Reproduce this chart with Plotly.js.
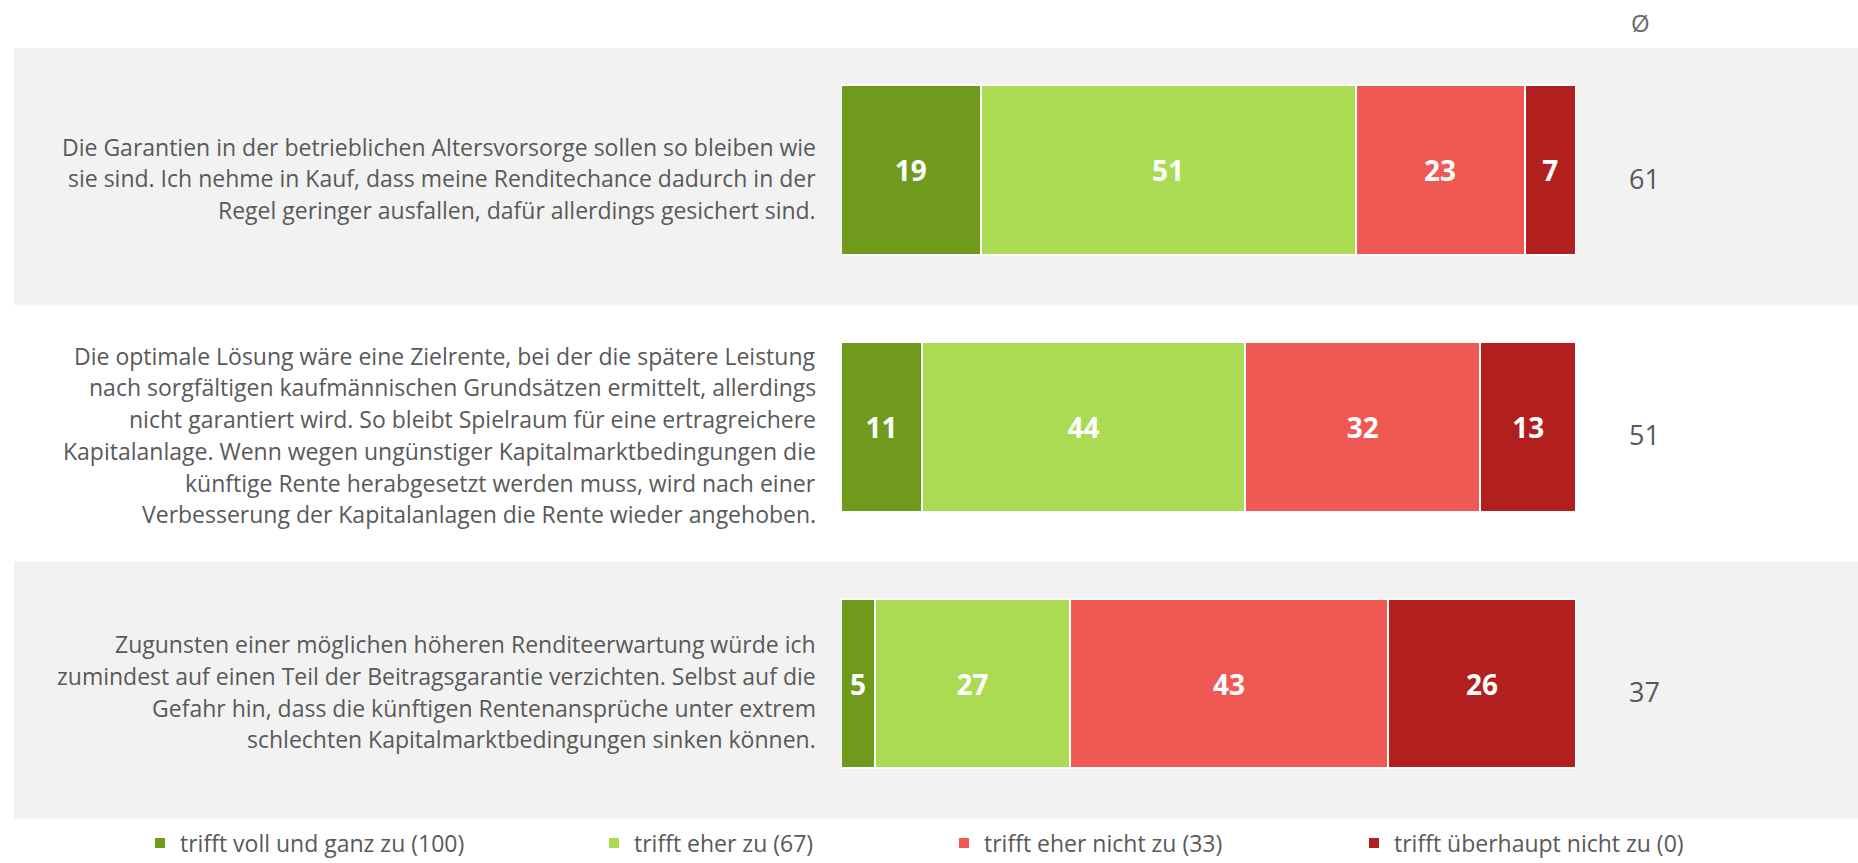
<!DOCTYPE html>
<html>
<head>
<meta charset="utf-8">
<script src="https://cdn.plot.ly/plotly-3.0.1.min.js"></script>
<style>html,body{margin:0;padding:0;background:#fff;}#chart{width:1858px;height:863px;}</style>
</head>
<body>
<div id="chart"></div>
<script>
// ---- data ----
const statements = [
  "Die Garantien in der betrieblichen Altersvorsorge sollen so bleiben wie<br>sie sind. Ich nehme in Kauf, dass meine Renditechance dadurch in der<br>Regel geringer ausfallen, dafür allerdings gesichert sind.",
  "Die optimale Lösung wäre eine Zielrente, bei der die spätere Leistung<br>nach sorgfältigen kaufmännischen Grundsätzen ermittelt, allerdings<br>nicht garantiert wird. So bleibt Spielraum für eine ertragreichere<br>Kapitalanlage. Wenn wegen ungünstiger Kapitalmarktbedingungen die<br>künftige Rente herabgesetzt werden muss, wird nach einer<br>Verbesserung der Kapitalanlagen die Rente wieder angehoben.",
  "Zugunsten einer möglichen höheren Renditeerwartung würde ich<br>zumindest auf einen Teil der Beitragsgarantie verzichten. Selbst auf die<br>Gefahr hin, dass die künftigen Rentenansprüche unter extrem<br>schlechten Kapitalmarktbedingungen sinken können."
];
const seriesNames = ["trifft voll und ganz zu (100)", "trifft eher zu (67)", "trifft eher nicht zu (33)", "trifft überhaupt nicht zu (0)"];
const vollUndGanz = [19, 11, 4.6];
const eherZu = [51, 44, 26.6];
const eherNicht = [23, 32, 43.2];
const ueberhauptNicht = [7, 13, 25.6];
const averages = [61, 51, 37];
const averageHeader = "Ø";

// ---- styles ----
const colors = ["#6f9a1c", "#aadb52", "#f05854", "#b1201e"];
const textGray = "#595959";
const FONT = "'Open Sans', 'DejaVu Sans', sans-serif";
const W = 1858, H = 863;
const rows = [0, 1, 2];
const seriesValues = [vollUndGanz, eherZu, eherNicht, ueberhauptNicht];
const legendIds = ["legend", "legend2", "legend3", "legend4"];
const legendLeftPx = [140, 594, 944, 1354];

const traces = seriesValues.map((vals, s) => ({
  type: "bar",
  orientation: "h",
  name: seriesNames[s],
  y: rows,
  x: vals,
  width: 0.662,
  marker: {color: colors[s], line: {color: "#ffffff", width: 2}},
  texttemplate: "%{x:.0f}",
  textposition: "inside",
  insidetextanchor: "middle",
  textangle: 0,
  constraintext: "none",
  textfont: {family: FONT, size: 28, color: "#ffffff", weight: 700},
  hoverinfo: "skip",
  legend: legendIds[s],
  showlegend: true
}));

const shapes = [0, 2].map(i => ({
  type: "rect", layer: "below", xref: "paper", yref: "y",
  x0: 14 / W, x1: 1, y0: i - 0.475, y1: i + 0.527,
  fillcolor: "#f2f2f2", line: {width: 0}
}));

const annotations = [];
const lineStep = 0.1235, textShift = 0.032;
statements.forEach((st, i) => {
  const lines = st.split("<br>");
  const n = lines.length;
  lines.forEach((ln, k) => {
    annotations.push({
      xref: "paper", yref: "y", x: 818 / W, y: i + textShift + (k - (n - 1) / 2) * lineStep,
      xanchor: "right", yanchor: "middle", showarrow: false, text: ln,
      font: {family: FONT, size: 23, color: textGray}
    });
  });
  annotations.push({
    xref: "paper", yref: "y", x: 1644 / W, y: i + textShift,
    xanchor: "center", yanchor: "middle", showarrow: false, text: String(averages[i]),
    font: {family: FONT, size: 27, color: textGray}
  });
});
annotations.push({
  xref: "paper", yref: "paper", x: 1640 / W, y: 1 - 22 / H,
  xanchor: "center", yanchor: "middle", showarrow: false, text: averageHeader,
  font: {family: FONT, size: 24, color: "#6a6a6a"}
});

const layout = {
  width: W, height: H,
  margin: {l: 0, r: 0, t: 0, b: 0, autoexpand: false},
  paper_bgcolor: "#ffffff",
  plot_bgcolor: "rgba(0,0,0,0)",
  barmode: "stack",
  bargap: 0,
  xaxis: {range: [0, 100], domain: [841 / W, 1576 / W], visible: false, fixedrange: true},
  yaxis: {range: [2.6, -0.6], domain: [1 - 837.55 / H, 1 - 15.95 / H], visible: false, fixedrange: true},
  shapes: shapes,
  annotations: annotations,
  font: {family: FONT, color: textGray}
};
legendIds.forEach((id, s) => {
  layout[id] = {
    x: legendLeftPx[s] / W, y: 1 - 843 / H, xanchor: "left", yanchor: "middle",
    orientation: "h", bgcolor: "rgba(0,0,0,0)", borderwidth: 0,
    font: {family: FONT, size: 23, color: textGray}
  };
});

Plotly.newPlot("chart", traces, layout, {displayModeBar: false, staticPlot: true});
</script>
</body>
</html>
